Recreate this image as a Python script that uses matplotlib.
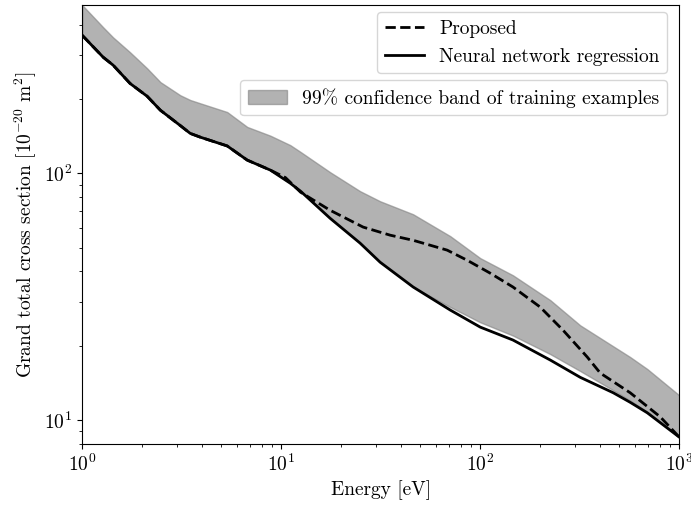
import numpy as np
import matplotlib
matplotlib.use("Agg")
import matplotlib.pyplot as plt

plt.rcParams['font.family'] = 'serif'
plt.rcParams['font.serif'] = ['cmr10']
plt.rcParams['mathtext.fontset'] = 'cm'
plt.rcParams['axes.formatter.use_mathtext'] = True
plt.rcParams['font.size'] = 14

# energies [eV]
energy = [1.0, 1.275, 1.43, 1.74, 2.12, 2.47, 3.11, 3.49, 3.92, 5.35, 6.75, 8.81,
          11.1, 12.5, 17.6, 24.9, 31.4, 46.0, 70.7, 100, 146, 225, 318, 466,
          567, 691, 1000]

# neural network regression
nn = [362, 295, 274, 231, 205, 180, 156, 145, 140, 129, 113, 103,
      91.1, 84.6, 65.7, 52.1, 43.6, 34.6, 27.9, 23.8, 21.1, 17.5, 14.9, 12.9,
      11.8, 10.7, 8.53]

# 99% band
band_hi = [480, 390, 355, 309, 266, 234, 207, 198, 192, 177, 154, 142,
           130, 122, 101, 84.6, 77.0, 68.2, 55.6, 45.3, 38.6, 30.6, 24.2, 19.9,
           18.0, 16.1, 12.6]
band_lo = [362, 295, 274, 231, 205, 180, 156, 145, 140, 129, 113, 103,
           91.1, 84.6, 65.7, 52.1, 43.6, 34.6, 28.7, 24.9, 22.0, 18.5, 15.8, 13.2,
           12.0, 10.8, 8.53]

# proposed
prop_e = [1.0, 1.275, 1.43, 1.74, 2.12, 2.47, 3.11, 3.49, 3.92, 5.35, 6.75, 8.81,
          10.5, 12.5, 17.6, 25.8, 35.3, 46.0, 68.2, 86.0, 112, 146, 200, 261,
          345, 401, 567, 803, 1000]
prop = [362, 295, 274, 231, 205, 180, 156, 145, 140, 129, 113, 103,
        96.0, 83.8, 70.8, 60.5, 56.1, 53.5, 48.8, 44.4, 39.4, 34.6, 28.7, 23.1,
        18.0, 15.5, 12.9, 10.3, 8.53]

fig = plt.figure(figsize=(6.91, 5.08), dpi=100)
ax = fig.add_axes([0.119, 0.126, 0.864, 0.864])

band = ax.fill_between(energy, band_lo, band_hi, color='gray', alpha=0.6)
l1, = ax.plot(prop_e, prop, 'k--', lw=2, label='Proposed')
l2, = ax.plot(energy, nn, 'k-', lw=2, label='Neural network regression')

ax.set_xscale('log')
ax.set_yscale('log')
ax.set_xlim(1, 1000)
ax.set_ylim(8.0, 480)
ax.set_xlabel('Energy [eV]')
ax.set_ylabel(r'Grand total cross section $[10^{-20}\ \mathrm{m}^2]$')

leg1 = ax.legend(handles=[l1, l2], loc='upper right',
                 bbox_to_anchor=(0.98, 0.984), borderaxespad=0)
ax.add_artist(leg1)
ax.legend(handles=[band], labels=['99% confidence band of training examples'],
          loc='upper right', bbox_to_anchor=(0.98, 0.829), borderaxespad=0)

fig.savefig('out.png', dpi=100)
